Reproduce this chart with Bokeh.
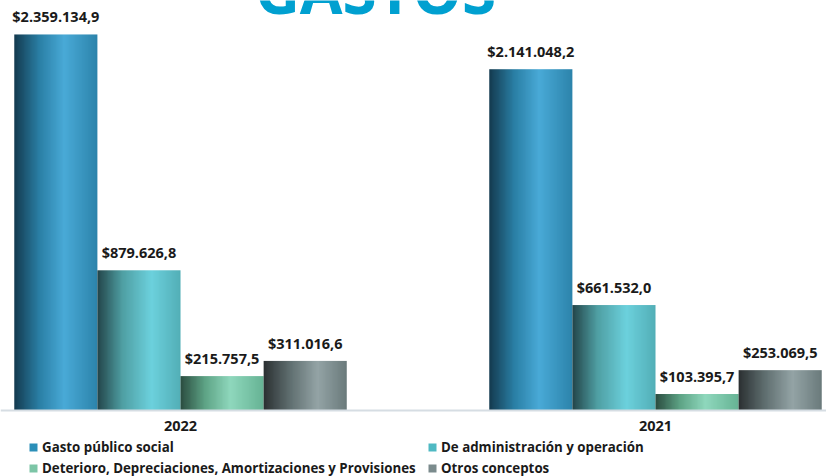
import numpy as np
from bokeh.plotting import figure
from bokeh.models import (ColumnDataSource, Range1d, FixedTicker, Legend, LegendItem)
from bokeh.core.properties import value
from bokeh.embed import file_html
from bokeh.resources import INLINE

# ---- data ----
years = ["2022", "2021"]
series = ["Gasto público social", "De administración y operación",
          "Deterioro, Depreciaciones, Amortizaciones y Provisiones", "Otros conceptos"]
gasto_publico = [2359134.9, 2141048.2]
administracion = [879626.8, 661532.0]
deterioro = [215757.5, 103395.7]
otros = [311016.6, 253069.5]
title_text = "GASTOS"

values_by_series = [gasto_publico, administracion, deterioro, otros]

# ---- styles ----
legend_colors = ["#2b8fb8", "#4fb9c3", "#7cc5a6", "#7b8b8d"]
gradients = [
    [(0.0, "#143a4e"), (0.3, "#2a7fa5"), (0.6, "#49aad7"), (1.0, "#2c84ab")],
    [(0.0, "#23454a"), (0.3, "#4f9fa3"), (0.65, "#6cd1dd"), (1.0, "#52aeb6")],
    [(0.0, "#2b4c40"), (0.3, "#5fa587"), (0.6, "#8fd8bd"), (1.0, "#66b394")],
    [(0.0, "#2b3032"), (0.3, "#5d6c6d"), (0.65, "#94a4a6"), (1.0, "#6a7a7b")],
]
FONT = "Open Sans"
GRAD_PX = 96
group_width = 0.7
bar_w = group_width / len(series)


def hex2rgb(h):
    h = h.lstrip("#")
    return tuple(int(h[i:i + 2], 16) for i in (0, 2, 4))


def interp(stops, t):
    for (t0, c0), (t1, c1) in zip(stops[:-1], stops[1:]):
        if t0 <= t <= t1:
            f = (t - t0) / (t1 - t0) if t1 > t0 else 0
            a, b = hex2rgb(c0), hex2rgb(c1)
            return tuple(int(round(a[i] + (b[i] - a[i]) * f)) for i in range(3))
    return hex2rgb(stops[-1][1])


def gradient_image(stops):
    img = np.zeros((2, GRAD_PX), dtype=np.uint32)
    view = img.view(dtype=np.uint8).reshape((2, GRAD_PX, 4))
    for k in range(GRAD_PX):
        r, g, b = interp(stops, (k + 0.5) / GRAD_PX)
        view[:, k, 0] = r
        view[:, k, 1] = g
        view[:, k, 2] = b
        view[:, k, 3] = 255
    return img


def fmt(v):
    s = f"{v:,.1f}"
    s = s.replace(",", "X").replace(".", ",").replace("X", ".")
    return "$" + s


p = figure(width=826, height=476, output_backend="svg", toolbar_location=None,
           x_range=Range1d(-0.379, 1.360), y_range=Range1d(-0.4141e6, 2.5722e6),
           min_border_left=0, min_border_right=0, min_border_top=0, min_border_bottom=0)
p.outline_line_color = None
p.xgrid.visible = False
p.ygrid.visible = False
p.yaxis.visible = False
p.background_fill_color = "white"
p.border_fill_color = "white"

legend_items = []
lab_x, lab_y, lab_t = [], [], []
for si, (name, vals) in enumerate(zip(series, values_by_series)):
    img = gradient_image(gradients[si])
    lefts = []
    for gi, v in enumerate(vals):
        center = gi - group_width / 2 + bar_w * (si + 0.5)
        lefts.append(center - bar_w / 2)
        lab_x.append(center)
        lab_y.append(v)
        lab_t.append(fmt(v))
    p.image_rgba(image=[img] * len(vals), x=lefts, y=[0] * len(vals),
                 dw=[bar_w] * len(vals), dh=list(vals))
    dummy = p.vbar(x=[0], top=[0], bottom=[0], width=0.001,
                   fill_color=legend_colors[si], line_color=None)
    legend_items.append(LegendItem(label=name, renderers=[dummy]))

lsrc = ColumnDataSource(dict(x=lab_x, y=lab_y, t=lab_t))
p.text(x="x", y="y", text="t", source=lsrc, text_align="center", text_baseline="bottom",
       y_offset=-8, text_font=value(FONT), text_font_style="bold", text_font_size="14.5px",
       text_color="#1a1a1a")

# title
tsrc = ColumnDataSource(dict(x=[0.4105], y=[2.635e6], t=[title_text]))
p.text(x="x", y="y", text="t", source=tsrc, text_align="center", text_baseline="alphabetic",
       text_font=value(FONT), text_font_style="bold", text_font_size="62px",
       text_color="#00a0d0")

p.xaxis.fixed_location = 0
p.xaxis.ticker = FixedTicker(ticks=[0, 1])
p.xaxis.major_label_overrides = {0: years[0], 1: years[1]}
p.xaxis.axis_line_color = "#d6dde3"
p.xaxis.axis_line_width = 2
p.xaxis.major_tick_line_color = None
p.xaxis.minor_tick_line_color = None
p.xaxis.major_label_text_font = FONT
p.xaxis.major_label_text_font_style = "bold"
p.xaxis.major_label_text_font_size = "14.5px"
p.xaxis.major_label_text_color = "#1a1a1a"
p.xaxis.major_label_standoff = 5

legend = Legend(items=legend_items, orientation="horizontal", ncols=2,
                location=(28, -1), padding=0, margin=0, spacing=3,
                glyph_width=10, glyph_height=10, label_standoff=4, label_height=17,
                label_width=382,
                label_text_font=FONT, label_text_font_style="bold",
                label_text_font_size="13.3px", label_text_color="#1a1a1a",
                border_line_color=None, background_fill_alpha=0)
p.add_layout(legend, "center")

open("out.html", "w").write(file_html(p, INLINE))
